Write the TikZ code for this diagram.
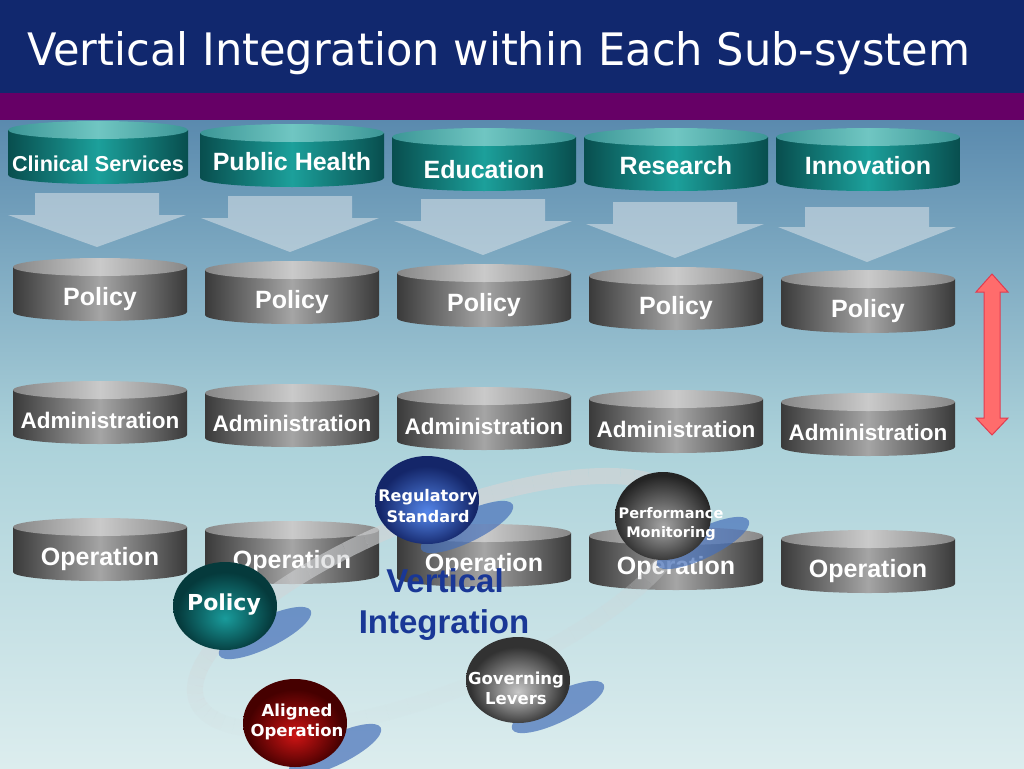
\documentclass[tikz,border=0pt]{standalone}
\usepackage{graphicx}
\usepackage{fontspec}
\setmainfont{Liberation Sans}
\newfontfamily\dvs{DejaVu Sans}
\usetikzlibrary{shapes.geometric}

\definecolor{titleblue}{RGB}{17,40,110}
\definecolor{purp}{RGB}{102,0,102}
\definecolor{bgtop}{RGB}{90,138,174}
\definecolor{bgmid}{RGB}{172,210,218}
\definecolor{bgbot}{RGB}{220,237,238}
\definecolor{gedge}{RGB}{58,58,58}
\definecolor{gmid}{RGB}{165,165,165}
\definecolor{gtopl}{RGB}{135,135,135}
\definecolor{gtopm}{RGB}{202,202,202}
\definecolor{tedge}{RGB}{8,78,78}
\definecolor{tmid}{RGB}{28,160,155}
\definecolor{ttopl}{RGB}{60,150,150}
\definecolor{ttopm}{RGB}{112,198,194}
\definecolor{arrfill}{RGB}{228,232,236}
\definecolor{redfill}{RGB}{255,108,108}
\definecolor{redline}{RGB}{225,60,80}
\definecolor{ringc}{RGB}{210,212,214}
\definecolor{shadowc}{RGB}{70,112,185}
\definecolor{vitext}{RGB}{25,55,150}
\definecolor{bluehi}{RGB}{85,135,235}
\definecolor{bluelo}{RGB}{20,38,105}
\definecolor{tealhi}{RGB}{25,155,155}
\definecolor{teallo}{RGB}{5,58,60}
\definecolor{greyhi}{RGB}{200,200,200}
\definecolor{greylo}{RGB}{50,50,50}
\definecolor{darkhi}{RGB}{165,165,165}
\definecolor{darklo}{RGB}{36,36,36}
\definecolor{redhi}{RGB}{205,20,20}
\definecolor{redlo}{RGB}{70,0,0}

\pgfdeclareradialshading{sphblue}{\pgfpoint{0bp}{-7bp}}{color(0bp)=(bluehi); color(23bp)=(bluelo); color(50bp)=(bluelo)}
\pgfdeclareradialshading{sphteal}{\pgfpoint{0bp}{-7bp}}{color(0bp)=(tealhi); color(23bp)=(teallo); color(50bp)=(teallo)}
\pgfdeclareradialshading{sphgrey}{\pgfpoint{0bp}{-7bp}}{color(0bp)=(greyhi); color(23bp)=(greylo); color(50bp)=(greylo)}
\pgfdeclareradialshading{sphdark}{\pgfpoint{0bp}{-6bp}}{color(0bp)=(darkhi); color(26bp)=(darklo); color(50bp)=(darklo)}
\pgfdeclareradialshading{sphred}{\pgfpoint{0bp}{-7bp}}{color(0bp)=(redhi); color(23bp)=(redlo); color(50bp)=(redlo)}

\tikzset{
  gbody/.style={left color=gedge, right color=gedge, middle color=gmid},
  gtop/.style={left color=gtopl, right color=gtopl, middle color=gtopm},
  tbody/.style={left color=tedge, right color=tedge, middle color=tmid},
  ttop/.style={left color=ttopl, right color=ttopl, middle color=ttopm},
  cyltext/.style={text=white, inner sep=0pt, anchor=base},
  blockarrow/.style={fill=arrfill, fill opacity=0.5},
  redarrow/.style={fill=redfill, draw=redline, line width=1pt},
  ringband/.style={draw=ringc, line width=16pt},
  sphshadow/.style={fill=shadowc, fill opacity=0.7},
  sphere/.style={ellipse, shade, minimum width=104pt, minimum height=88pt, inner sep=0pt},
  sphtext/.style={text=white, align=center, inner sep=0pt},
  vitextstyle/.style={text=vitext, inner sep=0pt, font=\bfseries\fontsize{33}{41}\selectfont},
}

% teal cylinder: name, xc, ytop, half width, text, text baseline y, font size
\newcommand\tcyl[7]{%
  \shade[tbody] (#2-#4,#3+9) -- (#2-#4,#3+54) arc[start angle=180, end angle=360, x radius=#4pt, y radius=9pt] -- (#2+#4,#3+9) -- cycle;
  \shade[ttop] (#2,#3+9) ellipse [x radius=#4pt, y radius=9pt];
  \node[cyltext, font=\bfseries\fontsize{#7}{#7}\selectfont] (#1) at (#2,#6) {#5};}
% grey cylinder: name, xc, ytop, text, font size
\newcommand\gcyl[5]{%
  \shade[gbody] (#2-87,#3+9) -- (#2-87,#3+54) arc[start angle=180, end angle=360, x radius=87pt, y radius=9pt] -- (#2+87,#3+9) -- cycle;
  \shade[gtop] (#2,#3+9) ellipse [x radius=87pt, y radius=9pt];
  \node[cyltext, font=\bfseries\fontsize{#5}{#5}\selectfont] (#1) at (#2,#3+47) {#4};}
% down block arrow: xc, ytop, ybase of head, ytip
\newcommand\downarr[4]{%
  \fill[blockarrow] (#1-62,#2) -- (#1+62,#2) -- (#1+62,#3) -- (#1+89,#3) -- (#1,#4) -- (#1-89,#3) -- (#1-62,#3) -- cycle;}
% shadow of a sphere: cx, cy
\newcommand\sphshad[2]{%
  \fill[sphshadow, rotate around={26:(#1+40,#2+27)}] (#1+40,#2+27) ellipse [x radius=51pt, y radius=15pt];}

\begin{document}
\begin{tikzpicture}[x=1pt,y=-1pt]
\useasboundingbox (0,0) rectangle (1024,768);
% background
\shade[top color=bgtop, bottom color=bgbot, middle color=bgmid] (0,120) rectangle (1024,768);
\fill[titleblue] (0,0) rectangle (1024,93);
\fill[purp] (0,93) rectangle (1024,120);
\node[anchor=base west, inner sep=0pt, text=white] (title) at (27,65)
  {\resizebox{943pt}{34pt}{\dvs Vertical Integration within Each Sub-system}};

% block arrows
\downarr{97}{193}{215}{247}
\downarr{290}{196}{218}{252}
\downarr{483}{199}{221}{255}
\downarr{675}{202}{224}{258}
\downarr{867}{207}{227}{262}

% sub-system cylinders
\tcyl{clin}{98}{121}{90}{Clinical Services}{171}{21.6}
\tcyl{pub}{292}{124}{92}{Public Health}{170}{25}
\tcyl{edu}{484}{128}{92}{Education}{178}{25}
\tcyl{res}{676}{128}{92}{Research}{174}{25}
\tcyl{inn}{868}{128}{92}{Innovation}{174}{25}

% policy row
\gcyl{pol1}{100}{258}{Policy}{25}
\gcyl{pol2}{292}{261}{Policy}{25}
\gcyl{pol3}{484}{264}{Policy}{25}
\gcyl{pol4}{676}{267}{Policy}{25}
\gcyl{pol5}{868}{270}{Policy}{25}
% administration row
\gcyl{adm1}{100}{381}{Administration}{22.5}
\gcyl{adm2}{292}{384}{Administration}{22.5}
\gcyl{adm3}{484}{387}{Administration}{22.5}
\gcyl{adm4}{676}{390}{Administration}{22.5}
\gcyl{adm5}{868}{393}{Administration}{22.5}
% operation row
\gcyl{op1}{100}{518}{Operation}{25}
\gcyl{op2}{292}{521}{Operation}{25}
\gcyl{op3}{484}{524}{Operation}{25}
\gcyl{op4}{676}{527}{Operation}{25}
\gcyl{op5}{868}{530}{Operation}{25}

% red double arrow
\filldraw[redarrow] (984,292) -- (976,292) -- (992,274) -- (1008,292) -- (1000,292) -- (1000,418) -- (1008,418) -- (992,435) -- (976,418) -- (984,418) -- cycle;

% ring
\begin{scope}[rotate around={22:(440,603)}]
\foreach \t in {0,5,...,355}{
  \pgfmathsetmacro\op{max(0.06,0.36-0.3*sin(\t+2.5)+0.18*cos(\t+2.5))}
  \draw[ringband, draw opacity=\op] plot[domain=\t:\t+5, samples=4] ({440+262*cos(\x)}, {603+87*sin(\x)});
}
\end{scope}

% shadows
\sphshad{427}{500}
\sphshad{663}{516}
\sphshad{225}{606}
\sphshad{518}{680}
\sphshad{295}{723}

% spheres
\node[sphere, shading=sphblue] (reg) at (427,500) {};
\node[sphere, shading=sphdark, minimum width=96pt] (perf) at (663,516) {};
\node[sphere, shading=sphteal] (pol) at (225,606) {};
\node[sphere, shading=sphgrey, minimum height=86pt] (gov) at (518,680) {};
\node[sphere, shading=sphred] (ali) at (295,723) {};

\node[sphtext, font=\dvs\bfseries\fontsize{16}{21}\selectfont] (regt) at (428,506) {Regulatory\\Standard};
\node[sphtext, font=\dvs\bfseries\fontsize{14.5}{19}\selectfont] (perft) at (671,524) {Performance\\Monitoring};
\node[sphtext, font=\dvs\bfseries\fontsize{22}{26}\selectfont] (polt) at (224,605) {Policy};
\node[sphtext, font=\dvs\bfseries\fontsize{16.5}{20}\selectfont] (govt) at (516,688) {Governing\\Levers};
\node[sphtext, font=\dvs\bfseries\fontsize{16.5}{20}\selectfont] (alit) at (297,722) {Aligned\\Operation};

% vertical integration label
\node[vitextstyle, anchor=base] (vi1) at (445,592) {Vertical};
\node[vitextstyle, anchor=base] (vi2) at (444,633) {Integration};
\end{tikzpicture}
\end{document}
